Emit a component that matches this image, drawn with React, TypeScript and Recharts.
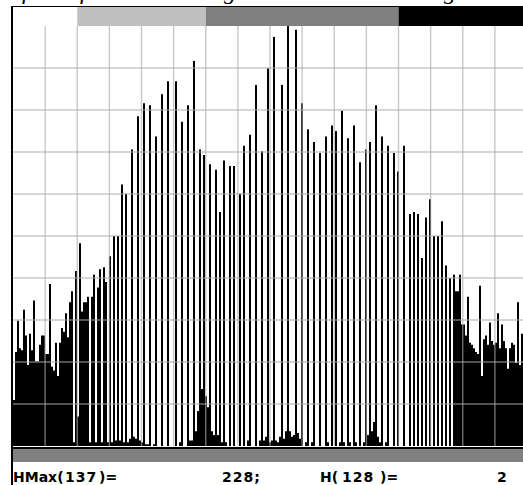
import React from "react";
import { BarChart, Bar, XAxis, YAxis, ReferenceLine, ReferenceArea } from "recharts";

if (typeof document !== "undefined") {
  document.body.style.margin = "0";
  document.body.style.overflow = "hidden";
}

// 256-bin grey-level histogram
const histogram: number[] = [
  25, 51, 68, 53, 52, 74, 60, 44, 61, 52, 79, 46, 46, 55, 60, 60,
  50, 50, 88, 43, 41, 56, 38, 56, 64, 62, 72, 59, 78, 84, 2, 95,
  16, 110, 73, 78, 78, 81, 2, 81, 93, 2, 86, 96, 2, 97, 89, 2,
  103, 2, 114, 3, 114, 3, 142, 2, 137, 2, 4, 161, 5, 4, 179, 3,
  2, 186, 1, 1, 185, 0, 1, 168, 0, 0, 191, 0, 0, 198, 0, 0,
  0, 198, 0, 2, 176, 0, 0, 185, 3, 3, 209, 8, 19, 161, 31, 158,
  27, 21, 153, 8, 6, 150, 6, 127, 2, 155, 2, 0, 152, 0, 152, 0,
  0, 137, 0, 163, 0, 3, 169, 0, 0, 196, 0, 3, 160, 3, 5, 205,
  2, 3, 222, 3, 2, 5, 196, 4, 8, 228, 8, 5, 6, 226, 7, 4,
  186, 0, 2, 172, 0, 2, 165, 0, 0, 159, 0, 0, 168, 2, 0, 174,
  0, 171, 0, 2, 182, 2, 0, 167, 2, 0, 174, 2, 0, 154, 0, 2,
  161, 6, 165, 8, 13, 185, 5, 2, 168, 0, 2, 163, 0, 0, 159, 0,
  149, 0, 0, 163, 0, 0, 126, 0, 127, 0, 126, 0, 102, 0, 124, 0,
  134, 0, 114, 0, 114, 0, 122, 0, 98, 0, 91, 0, 93, 84, 84, 93,
  66, 66, 60, 81, 56, 55, 53, 51, 50, 87, 38, 58, 60, 55, 67, 57,
  55, 56, 72, 53, 66, 57, 53, 42, 53, 56, 55, 45, 78, 44, 61, 55,
];
const bins: number[] = histogram.map((_, i) => i);

// grey-level strip above the histogram
const stripStops: number[] = [0, 32, 96, 192, 256];
const stripColors: string[] = ["#ffffff", "#c0c0c0", "#808080", "#000000"];

// grid
const xGridBins: number[] = [16, 32, 48, 64, 80, 96, 112, 128, 144, 160, 176, 192, 208, 224, 240];
const hMaxBin = 137;
const hMax = histogram[hMaxBin];
const yGridCount = 10;
const yGridValues: number[] = Array.from({ length: yGridCount - 1 }, (_, k) => ((k + 1) * hMax) / yGridCount);
const hBin = 128;
const hVal = histogram[hBin];

// labels
const statusTokens: { text: string; x: number; num: boolean }[] = [
  { text: "HMax(", x: 13, num: false },
  { text: String(hMaxBin), x: 65, num: true },
  { text: ")=", x: 99, num: false },
  { text: `${hMax};`, x: 222, num: true },
  { text: "H(", x: 320, num: false },
  { text: String(hBin), x: 342, num: true },
  { text: ")=", x: 380, num: false },
  { text: String(hVal), x: 497, num: true },
];
const titleGlyphs: { text: string; x: number }[] = [
  { text: "f", x: 22 },
  { text: "f", x: 80 },
  { text: "g", x: 224 },
  { text: "g", x: 444 },
];

const data = bins.map((b) => ({ bin: b, v: histogram[b] }));

const PLOT_TOP = 7;
const STRIP_H = 19;
const PLOT_H = 420;
const yTop = (hMax * (PLOT_H + STRIP_H)) / PLOT_H;
const gridStroke = "rgb(170,170,170)";

export default function App() {
  return (
    <div style={{ position: "relative", width: 523, height: 485, overflow: "hidden", background: "#fff" }}>
      {titleGlyphs.map((g, i) => (
        <span
          key={i}
          style={{
            position: "absolute",
            left: g.x,
            top: -21,
            fontFamily: "'Liberation Serif', serif",
            fontStyle: "italic",
            fontSize: 24,
            lineHeight: "24px",
          }}
        >
          {g.text}
        </span>
      ))}
      <div style={{ position: "absolute", left: 0, top: 0 }}>
        <BarChart
          width={530}
          height={PLOT_TOP + STRIP_H + PLOT_H}
          data={data}
          margin={{ top: PLOT_TOP, right: 5, bottom: 0, left: 13 }}
          barCategoryGap={0}
          barGap={0}
        >
          <XAxis dataKey="bin" type="category" hide />
          <XAxis xAxisId="n" type="number" domain={[0, 256]} allowDataOverflow hide />
          <YAxis type="number" domain={[0, yTop]} allowDataOverflow hide />
          <Bar dataKey="v" fill="#000" isAnimationActive={false} />
          {xGridBins.map((b) => (
            <ReferenceLine
              key={`x${b}`}
              xAxisId="n"
              segment={[{ x: b, y: 0 }, { x: b, y: hMax }]}
              stroke={gridStroke}
              strokeOpacity={0.65}
              strokeWidth={1.4}
            />
          ))}
          {yGridValues.map((v) => (
            <ReferenceLine
              key={`y${v}`}
              xAxisId="n"
              y={v}
              stroke={gridStroke}
              strokeOpacity={0.65}
              strokeWidth={1.4}
            />
          ))}
          {stripColors.map((c, i) => (
            <ReferenceArea
              key={`s${i}`}
              xAxisId="n"
              x1={stripStops[i]}
              x2={stripStops[i + 1]}
              y1={hMax}
              y2={yTop}
              fill={c}
              fillOpacity={1}
              stroke="none"
              ifOverflow="visible"
            />
          ))}
        </BarChart>
      </div>
      {/* frame */}
      <div style={{ position: "absolute", left: 11, top: 6, width: 512, height: 1, background: "#000" }} />
      <div style={{ position: "absolute", left: 11, top: 6, width: 2, height: 479, background: "#000" }} />
      {/* baseline + grey band */}
      <div style={{ position: "absolute", left: 13, top: 447, width: 510, height: 2, background: "#000" }} />
      <div style={{ position: "absolute", left: 13, top: 449, width: 510, height: 13, background: "#808080" }} />
      {statusTokens.map((t, i) => (
        <span
          key={i}
          style={{
            position: "absolute",
            left: t.x,
            top: 470,
            fontFamily: "'DejaVu Sans', sans-serif",
            fontWeight: "bold",
            fontSize: 14,
            lineHeight: "14px",
            letterSpacing: t.num ? 1 : 0,
            whiteSpace: "pre",
            color: "#000",
          }}
        >
          {t.text}
        </span>
      ))}
    </div>
  );
}
